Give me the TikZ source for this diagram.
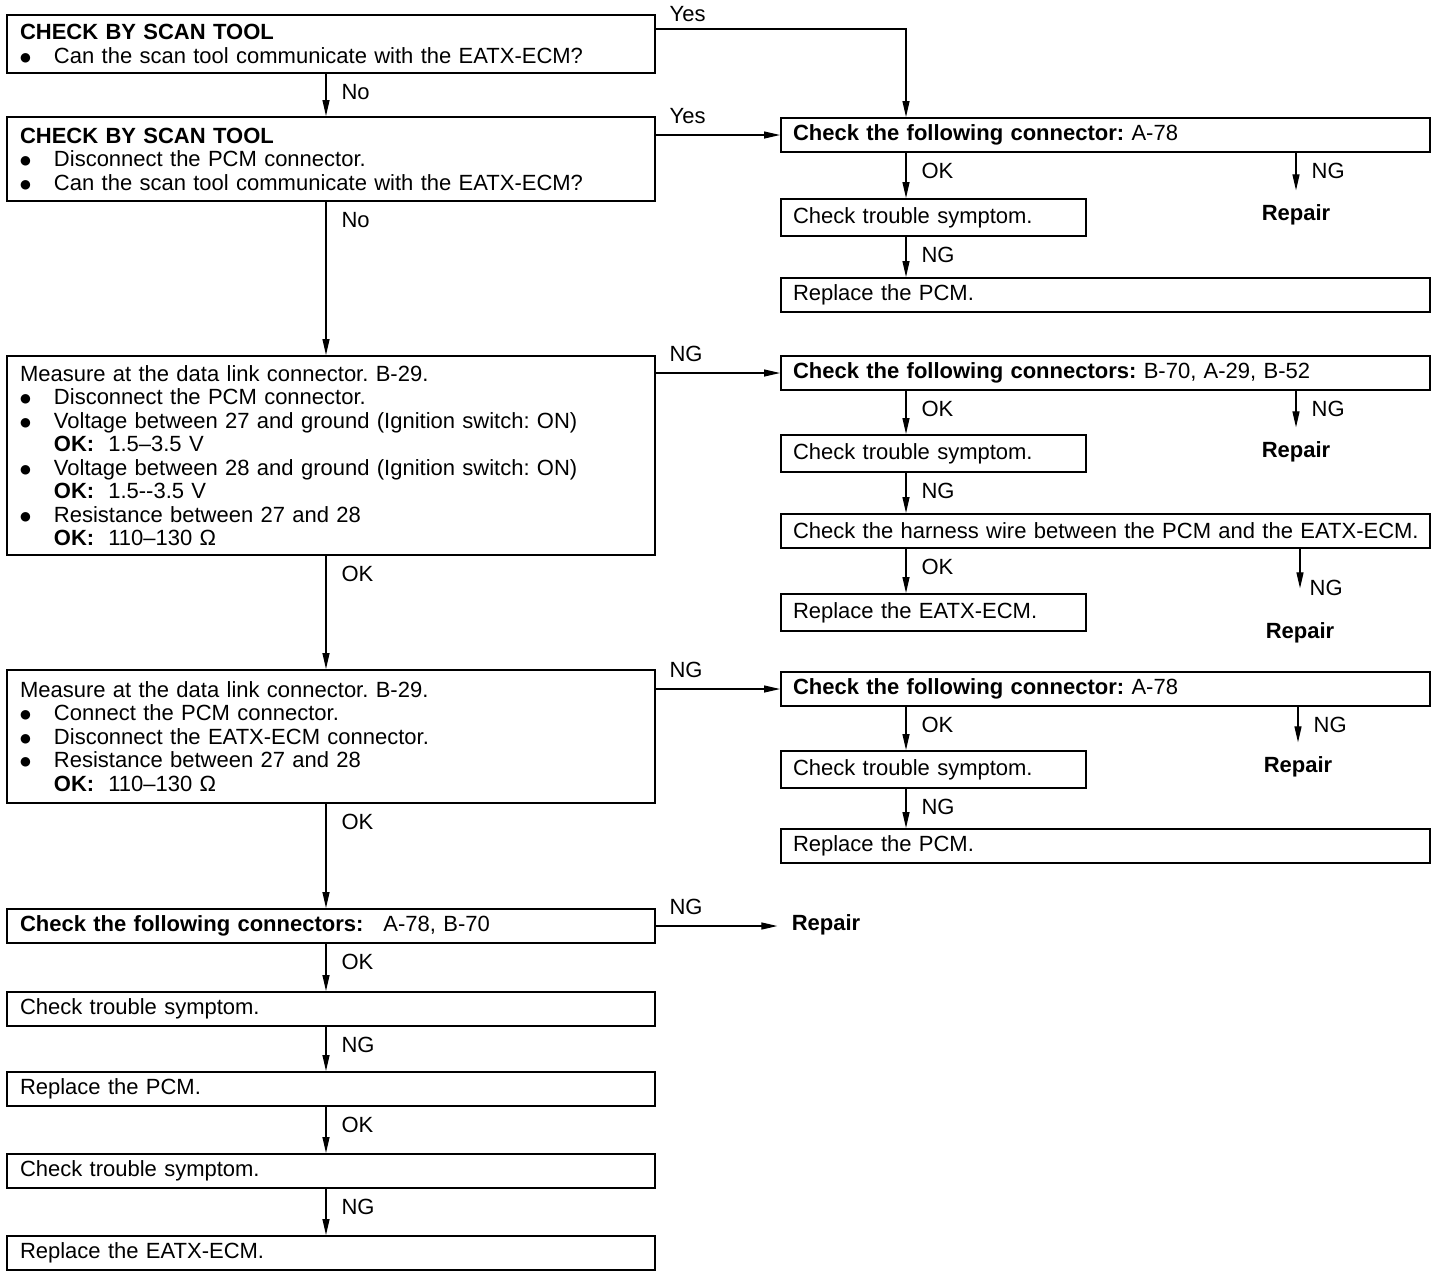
\documentclass[tikz,border=0pt]{standalone}
\usepackage{fontspec}
\setmainfont{Liberation Sans}
\newfontfamily\dotfont{DejaVu Sans}
\usetikzlibrary{arrows.meta,calc}
\newcommand\flowfont{\fontsize{11}{11.75}\selectfont\frenchspacing\spaceskip=4pt plus 1pt minus 0.5pt\relax}
\newcommand\bul{\makebox[17pt][l]{\raisebox{1pt}{\dotfont\fontsize{6.2}{6.2}\selectfont ●}}}
\newcommand\ind{\hspace*{17pt}}
\tikzset{
  flowbox/.style={
    draw,
    line width=1pt,
    anchor=north west,
    align=left,
    inner ysep=0pt,
    font=\flowfont
  },
  leftbox/.style={flowbox, inner xsep=6.5pt, text width=311pt, minimum height=#1},
  widebox/.style={flowbox, inner xsep=6pt, text width=312.5pt, minimum height=17pt},
  narrowbox/.style={flowbox, inner xsep=6pt, text width=140.5pt, minimum height=18.5pt},
  repairnode/.style={font=\flowfont\bfseries, inner xsep=7pt, inner ysep=7pt},
  flowarrow/.style={-{Triangle[length=8pt,width=3.5pt]}, line width=0.6pt},
  downlabel/.style={pos=0, anchor=west, xshift=7.5pt, yshift=-9pt, inner sep=0pt, font=\flowfont},
  sidelabel/.style={pos=0, anchor=base west, xshift=6.5pt, yshift=6pt, inner sep=0pt, font=\flowfont}
}
\begin{document}
\begin{tikzpicture}[x=0.5pt, y=-0.5pt]
  \useasboundingbox (0,0) rectangle (1440,1276);
  \coordinate (colL) at (326,0);
  \coordinate (colR) at (906,0);

  % main column
  \node[leftbox=29pt] (scan1) at (6,14)
    {\textbf{CHECK BY SCAN TOOL}\\\bul Can the scan tool communicate with the EATX-ECM?};
  \node[leftbox=42pt] (scan2) at (6,116)
    {\textbf{CHECK BY SCAN TOOL}\\\bul Disconnect the PCM connector.\\\bul Can the scan tool communicate with the EATX-ECM?};
  \node[leftbox=99.5pt] (meas1) at (6,355)
    {Measure at the data link connector. B-29.\\
     \bul Disconnect the PCM connector.\\
     \bul Voltage between 27 and ground (Ignition switch: ON)\\
     \ind\textbf{OK:}\hspace{7pt}1.5–3.5 V\\
     \bul Voltage between 28 and ground (Ignition switch: ON)\\
     \ind\textbf{OK:}\hspace{7pt}1.5-{}-3.5 V\\
     \bul Resistance between 27 and 28\\
     \ind\textbf{OK:}\hspace{7pt}110–130 Ω};
  \node[leftbox=66.5pt] (meas2) at (6,669)
    {Measure at the data link connector. B-29.\\
     \bul Connect the PCM connector.\\
     \bul Disconnect the EATX-ECM connector.\\
     \bul Resistance between 27 and 28\\
     \ind\textbf{OK:}\hspace{7pt}110–130 Ω};
  \node[leftbox=17pt] (conn) at (6,908)
    {\textbf{Check the following connectors:}\hspace{10pt}A-78, B-70};
  \node[leftbox=17pt] (symp1) at (6,991) {Check trouble symptom.};
  \node[leftbox=17pt] (pcm) at (6,1071) {Replace the PCM.};
  \node[leftbox=17pt] (symp2) at (6,1153) {Check trouble symptom.};
  \node[leftbox=17pt] (eatx) at (6,1235) {Replace the EATX-ECM.};

  % right branch A
  \node[widebox] (connA) at (780,117) {\textbf{Check the following connector:} A-78};
  \node[narrowbox] (sympA) at (780,198) {Check trouble symptom.};
  \node[widebox] (pcmA) at (780,277) {Replace the PCM.};
  \node[repairnode] (repA) at (1296,215) {Repair};

  % right branch B
  \node[widebox] (connB) at (780,355) {\textbf{Check the following connectors:} B-70, A-29, B-52};
  \node[narrowbox] (sympB) at (780,434) {Check trouble symptom.};
  \node[widebox] (harness) at (780,513) {\mbox{Check the harness wire between the PCM and the EATX-ECM.}};
  \node[narrowbox] (eatxB) at (780,593) {Replace the EATX-ECM.};
  \node[repairnode] (repB) at (1296,452) {Repair};
  \node[repairnode, inner ysep=17pt] (repC) at (1300,633) {Repair};

  % right branch C
  \node[widebox] (connC) at (780,671) {\textbf{Check the following connector:} A-78};
  \node[narrowbox] (sympC) at (780,750) {Check trouble symptom.};
  \node[widebox] (pcmC) at (780,828) {Replace the PCM.};
  \node[repairnode] (repC2) at (1298,767) {Repair};

  \node[repairnode] (repD) at (826,925) {Repair};

  % main column arrows
  \draw[flowarrow] (scan1.south -| colL) -- node[downlabel] {No} (scan2.north -| colL);
  \draw[flowarrow] (scan2.south -| colL) -- node[downlabel] {No} (meas1.north -| colL);
  \draw[flowarrow] (meas1.south -| colL) -- node[downlabel] {OK} (meas2.north -| colL);
  \draw[flowarrow] (meas2.south -| colL) -- node[downlabel] {OK} (conn.north -| colL);
  \draw[flowarrow] (conn.south -| colL) -- node[downlabel] {OK} (symp1.north -| colL);
  \draw[flowarrow] (symp1.south -| colL) -- node[downlabel] {NG} (pcm.north -| colL);
  \draw[flowarrow] (pcm.south -| colL) -- node[downlabel] {OK} (symp2.north -| colL);
  \draw[flowarrow] (symp2.south -| colL) -- node[downlabel] {NG} (eatx.north -| colL);

  % branches to the right
  \draw[flowarrow] ([yshift=-7.5pt]scan1.north east) -| node[sidelabel, yshift=-2pt] {Yes} (connA.north -| colR);
  \draw[flowarrow] (scan2.east |- connA.west) -- node[sidelabel] {Yes} (connA.west);
  \draw[flowarrow] (meas1.east |- connB.west) -- node[sidelabel] {NG} (connB.west);
  \draw[flowarrow] (meas2.east |- connC.west) -- node[sidelabel] {NG} (connC.west);
  \draw[flowarrow] (conn.east) -- node[sidelabel] {NG} (conn.east -| repD.west);

  % branch A arrows
  \draw[flowarrow] (connA.south -| colR) -- node[downlabel] {OK} (sympA.north -| colR);
  \draw[flowarrow] (sympA.south -| colR) -- node[downlabel] {NG} (pcmA.north -| colR);
  \draw[flowarrow] (connA.south -| repA.north) -- node[downlabel] {NG} (repA.north);

  % branch B arrows
  \draw[flowarrow] (connB.south -| colR) -- node[downlabel] {OK} (sympB.north -| colR);
  \draw[flowarrow] (sympB.south -| colR) -- node[downlabel] {NG} (harness.north -| colR);
  \draw[flowarrow] (harness.south -| colR) -- node[downlabel] {OK} (eatxB.north -| colR);
  \draw[flowarrow] (connB.south -| repB.north) -- node[downlabel] {NG} (repB.north);
  \draw[flowarrow] (harness.south -| repC.north) -- node[downlabel, pos=1, yshift=9pt, xshift=-3pt] {NG} (repC.north);

  % branch C arrows
  \draw[flowarrow] (connC.south -| colR) -- node[downlabel] {OK} (sympC.north -| colR);
  \draw[flowarrow] (sympC.south -| colR) -- node[downlabel] {NG} (pcmC.north -| colR);
  \draw[flowarrow] (connC.south -| repC2.north) -- node[downlabel] {NG} (repC2.north);
\end{tikzpicture}
\end{document}
